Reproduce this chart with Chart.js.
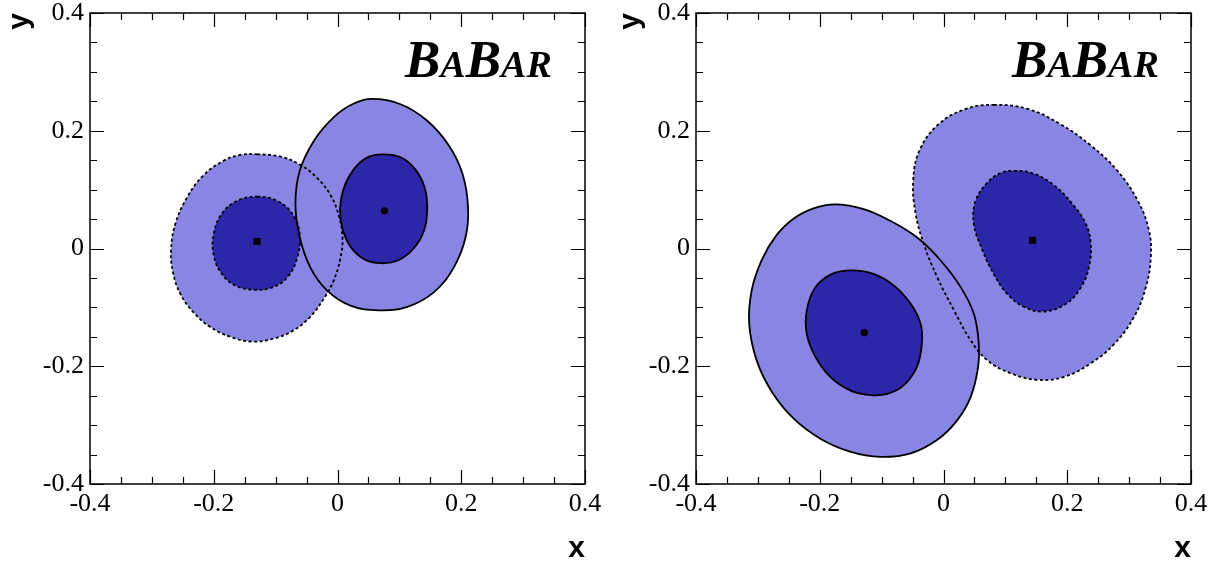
<!DOCTYPE html>
<html lang="en">
<head>
<meta charset="UTF-8">
<title>BaBar x-y confidence contours</title>
<script src="https://cdn.jsdelivr.net/npm/chart.js@4.4.4/dist/chart.umd.min.js"></script>
<style>
  html, body { margin: 0; padding: 0; background: #fff; }
  .panel { position: absolute; top: 0; width: 611px; height: 569px; }
  .logo {
    position: absolute; top: 33px;
    font-family: "Liberation Serif", serif; font-style: italic; font-weight: bold;
    font-size: 53px; line-height: 53px; color: #000; white-space: nowrap;
  }
  .logo small { font-size: 38px; }
</style>
</head>
<body>
<div class="panel" style="left:0"><canvas id="chart-left"></canvas></div>
<div class="panel" style="left:611px"><canvas id="chart-right"></canvas></div>
<div class="logo" style="left:405px">B<small>A</small>B<small>AR</small></div>
<div class="logo" style="left:1012px">B<small>A</small>B<small>AR</small></div>
<script>
// axis ticks shared by both panels
const tickValues = [-0.4, -0.2, 0, 0.2, 0.4];
const tickLabels = ['-0.4', '-0.2', '0', '0.2', '0.4'];

// left panel: dashed contours (square) and solid contours (dot)
const leftDashedOuter = [
  [-0.130, 0.160], [-0.092, 0.156], [-0.060, 0.142], [-0.033, 0.120], [-0.011, 0.090],
  [0.002, 0.056], [0.008, 0.019], [0.005, -0.015], [-0.006, -0.054], [-0.022, -0.085],
  [-0.044, -0.116], [-0.071, -0.139], [-0.103, -0.153], [-0.138, -0.158], [-0.173, -0.150],
  [-0.206, -0.133], [-0.233, -0.108], [-0.254, -0.077], [-0.266, -0.040], [-0.269, -0.003],
  [-0.262, 0.042], [-0.243, 0.087], [-0.217, 0.124], [-0.184, 0.149], [-0.157, 0.159]
];
const leftDashedInner = [
  [-0.130, 0.088], [-0.098, 0.081], [-0.073, 0.059], [-0.061, 0.025], [-0.065, -0.015],
  [-0.081, -0.049], [-0.108, -0.067], [-0.136, -0.070], [-0.165, -0.063], [-0.187, -0.043],
  [-0.200, -0.012], [-0.200, 0.025], [-0.187, 0.059], [-0.162, 0.081]
];
const leftSolidOuter = [
  [0.056, 0.254], [0.102, 0.245], [0.145, 0.217], [0.180, 0.175], [0.202, 0.127],
  [0.211, 0.070], [0.207, 0.019], [0.188, -0.032], [0.156, -0.074], [0.113, -0.099],
  [0.067, -0.105], [0.021, -0.097], [-0.017, -0.071], [-0.044, -0.032], [-0.061, 0.019],
  [-0.068, 0.076], [-0.061, 0.132], [-0.038, 0.183], [-0.006, 0.223], [0.024, 0.245]
];
const leftSolidInner = [
  [0.072, 0.160], [0.102, 0.155], [0.126, 0.134], [0.141, 0.103], [0.145, 0.067],
  [0.140, 0.031], [0.123, 0.000], [0.098, -0.020], [0.070, -0.025], [0.043, -0.018],
  [0.021, 0.003], [0.008, 0.034], [0.004, 0.067], [0.010, 0.102], [0.026, 0.134],
  [0.047, 0.154]
];
const leftSquare = [[-0.130, 0.012]];
const leftDot = [[0.076, 0.064]];

// right panel
const rightSolidOuter = [
  [-0.175, 0.075], [-0.129, 0.067], [-0.086, 0.047], [-0.043, 0.019], [-0.005, -0.020],
  [0.028, -0.066], [0.049, -0.111], [0.057, -0.162], [0.056, -0.201], [0.044, -0.252],
  [0.022, -0.292], [-0.010, -0.325], [-0.053, -0.348], [-0.102, -0.354], [-0.151, -0.345],
  [-0.199, -0.323], [-0.242, -0.289], [-0.277, -0.244], [-0.302, -0.190], [-0.314, -0.128],
  [-0.310, -0.071], [-0.294, -0.020], [-0.271, 0.021], [-0.243, 0.050], [-0.210, 0.068]
];
const rightSolidInner = [
  [-0.148, -0.037], [-0.113, -0.043], [-0.080, -0.063], [-0.053, -0.094], [-0.037, -0.128],
  [-0.035, -0.162], [-0.043, -0.201], [-0.064, -0.232], [-0.091, -0.247], [-0.118, -0.249],
  [-0.151, -0.241], [-0.183, -0.218], [-0.207, -0.184], [-0.221, -0.145], [-0.221, -0.105],
  [-0.207, -0.066], [-0.180, -0.043]
];
const rightDashedOuter = [
  [0.081, 0.244], [0.136, 0.237], [0.189, 0.211], [0.238, 0.175], [0.281, 0.132],
  [0.314, 0.081], [0.332, 0.031], [0.335, -0.015], [0.327, -0.066], [0.308, -0.116],
  [0.276, -0.162], [0.238, -0.195], [0.195, -0.218], [0.152, -0.223], [0.109, -0.212],
  [0.071, -0.190], [0.044, -0.156], [0.017, -0.105], [-0.010, -0.049], [-0.032, 0.008],
  [-0.045, 0.059], [-0.049, 0.115], [-0.039, 0.166], [-0.008, 0.211], [0.036, 0.237]
];
const rightDashedInner = [
  [0.114, 0.132], [0.146, 0.127], [0.179, 0.107], [0.208, 0.076], [0.230, 0.042],
  [0.238, 0.008], [0.235, -0.032], [0.222, -0.066], [0.198, -0.094], [0.162, -0.107],
  [0.130, -0.099], [0.103, -0.077], [0.081, -0.043], [0.063, -0.003], [0.049, 0.042],
  [0.052, 0.081], [0.071, 0.112], [0.092, 0.128]
];
const rightSquare = [[0.144, 0.014]];
const rightDot = [[-0.128, -0.143]];

const lightBlue = '#8886e2';
const darkBlue = '#2c26a9';

function toXY(points) {
  return points.map(([x, y]) => ({x, y}));
}

// closed contour: one extra point on each end so the curve smoothing
// wraps round the join; the two extra pieces are not stroked
function contour(points, color, dashed, order) {
  const ring = toXY(points);
  const n = ring.length;
  const data = [ring[n - 1], ...ring, ring[0], ring[1]];
  const last = data.length - 1;
  const edge = c => (c.p0DataIndex === 0 || c.p1DataIndex === last) ? 'rgba(0,0,0,0)' : undefined;
  return {
    data,
    showLine: true,
    fill: 'shape',
    backgroundColor: color,
    borderColor: '#000',
    borderWidth: 1.8,
    borderDash: dashed ? [3, 2.5] : [],
    pointRadius: 0,
    tension: 0.4,
    segment: {borderColor: edge},
    order
  };
}

function marker(points, style, radius) {
  return {
    data: toXY(points),
    pointStyle: style,
    pointRadius: radius,
    backgroundColor: '#000',
    borderColor: '#000',
    borderWidth: 0,
    order: 0
  };
}

// box around the plot area with inward ticks on all four sides
const framePlugin = {
  id: 'frame',
  afterDatasetsDraw(chart) {
    const {ctx, chartArea: a, scales: {x, y}} = chart;
    ctx.save();
    ctx.strokeStyle = '#000';
    ctx.lineWidth = 1.2;
    ctx.beginPath();
    for (let i = 0; i <= 16; i++) {
      const v = -0.4 + i * 0.05;
      const len = i % 4 === 0 ? 14 : 7;
      const px = Math.round(x.getPixelForValue(v)) + 0.5;
      const py = Math.round(y.getPixelForValue(v)) + 0.5;
      ctx.moveTo(px, a.bottom); ctx.lineTo(px, a.bottom - len);
      ctx.moveTo(px, a.top); ctx.lineTo(px, a.top + len);
      ctx.moveTo(a.left, py); ctx.lineTo(a.left + len, py);
      ctx.moveTo(a.right, py); ctx.lineTo(a.right - len, py);
    }
    ctx.stroke();
    ctx.lineWidth = 1.5;
    ctx.strokeRect(a.left, a.top, a.right - a.left, a.bottom - a.top);
    ctx.restore();
  }
};

function makeChart(id, datasets, yWidth, rightPad) {
  const tickFont = {family: "'Liberation Serif', 'Times New Roman', serif", size: 26};
  const titleFont = {family: "'Liberation Sans', Arial, sans-serif", weight: 'bold', size: 30};
  const common = {
    type: 'linear',
    min: -0.4,
    max: 0.4,
    grid: {display: false, drawTicks: false},
    border: {display: false},
    afterBuildTicks: s => { s.ticks = tickValues.map(v => ({value: v})); },
    ticks: {
      font: tickFont,
      color: '#000',
      autoSkip: false,
      maxRotation: 0,
      callback: (v, i) => tickLabels[i]
    }
  };
  return new Chart(document.getElementById(id), {
    type: 'scatter',
    data: {datasets},
    options: {
      responsive: true,
      maintainAspectRatio: false,
      animation: false,
      layout: {padding: {top: 13, right: rightPad, left: 0, bottom: 0}},
      scales: {
        x: {
          ...common,
          ticks: {...common.ticks, padding: 5},
          title: {display: true, text: 'x', align: 'end', color: '#000', font: titleFont, padding: {top: 0, bottom: 2}},
          afterFit: s => { s.height = 85; s.paddingLeft = 0; s.paddingRight = 0; }
        },
        y: {
          ...common,
          ticks: {...common.ticks, padding: 6},
          title: {display: true, text: 'y', align: 'end', color: '#000', font: titleFont, padding: {top: 2, bottom: 0}},
          afterFit: s => { s.width = yWidth; s.paddingTop = 0; s.paddingBottom = 0; }
        }
      },
      plugins: {
        legend: {display: false},
        tooltip: {enabled: false},
        filler: {drawTime: 'beforeDatasetsDraw'}
      }
    },
    plugins: [framePlugin]
  });
}

makeChart('chart-left', [
  contour(leftDashedOuter, lightBlue, true, 3),
  contour(leftSolidOuter, lightBlue, false, 3),
  contour(leftDashedInner, darkBlue, true, 2),
  contour(leftSolidInner, darkBlue, false, 2),
  marker(leftSquare, 'rect', 5),
  marker(leftDot, 'circle', 3.6)
], 90, 26);

makeChart('chart-right', [
  contour(rightDashedOuter, lightBlue, true, 3),
  contour(rightSolidOuter, lightBlue, false, 3),
  contour(rightDashedInner, darkBlue, true, 2),
  contour(rightSolidInner, darkBlue, false, 2),
  marker(rightSquare, 'rect', 5),
  marker(rightDot, 'circle', 3.6)
], 85, 31);
</script>
</body>
</html>
